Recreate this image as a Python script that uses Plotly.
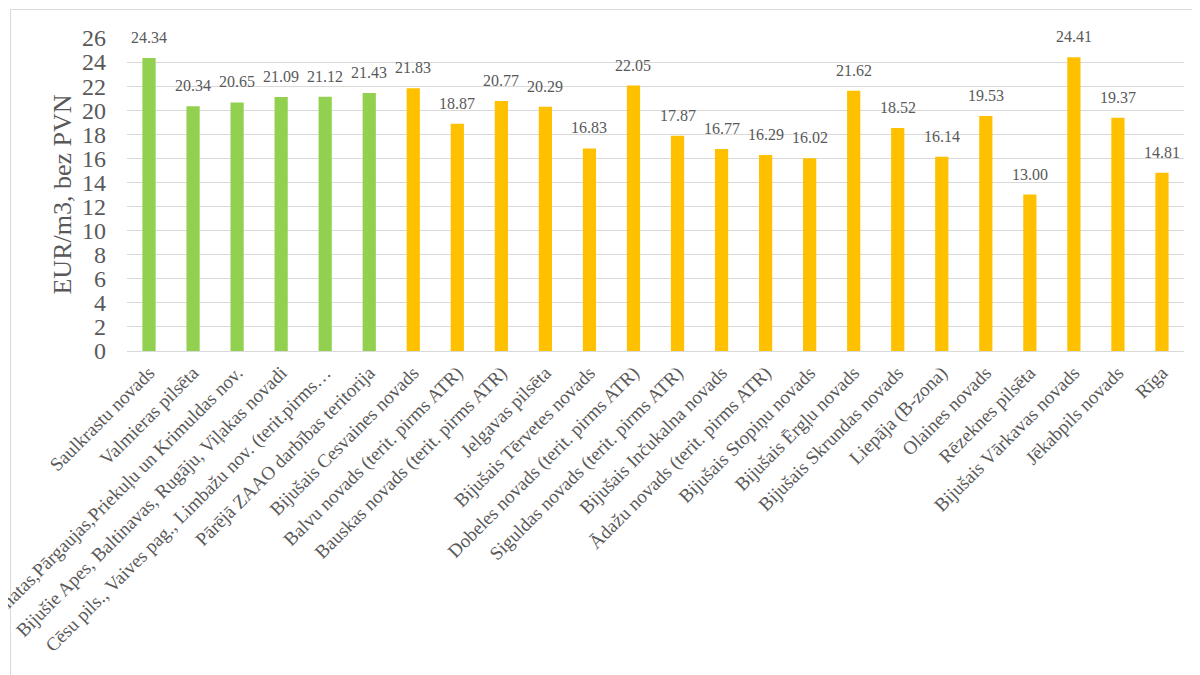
import plotly.graph_objects as go

categories = [
    "Saulkrastu novads",
    "Valmieras pilsēta",
    "Bijušie Amatas,Pārgaujas,Priekuļu un Krimuldas nov.",
    "Bijušie Apes, Baltinavas, Rugāju, Viļakas novadi",
    "Cēsu pils., Vaives pag., Limbažu nov. (terit.pirms…",
    "Pārējā ZAAO darbības teritorija",
    "Bijušais Cesvaines novads",
    "Balvu novads (terit. pirms ATR)",
    "Bauskas novads (terit. pirms ATR)",
    "Jelgavas pilsēta",
    "Bijušais Tērvetes novads",
    "Dobeles novads (terit. pirms ATR)",
    "Siguldas novads (terit. pirms ATR)",
    "Bijušais Inčukalna novads",
    "Ādažu novads (terit. pirms ATR)",
    "Bijušais Stopiņu novads",
    "Bijušais Ērgļu novads",
    "Bijušais Skrundas novads",
    "Liepāja (B-zona)",
    "Olaines novads",
    "Rēzeknes pilsēta",
    "Bijušais Vārkavas novads",
    "Jēkabpils novads",
    "Rīga",
]
values = [24.34, 20.34, 20.65, 21.09, 21.12, 21.43, 21.83, 18.87, 20.77, 20.29,
          16.83, 22.05, 17.87, 16.77, 16.29, 16.02, 21.62, 18.52, 16.14, 19.53,
          13.00, 24.41, 19.37, 14.81]
groups = ["green"] * 6 + ["orange"] * 18
y_ticks = list(range(0, 27, 2))

color_map = {"green": "#92D050", "orange": "#FFC000"}
bar_colors = [color_map[g] for g in groups]
text_color = "#595959"
serif = "Liberation Serif, Times New Roman, serif"

# page offset of the figure (default body margin)
OFF = 8
W, H = 1200, 675
# plot area in page pixels
PX0, PX1, PY0, PY1 = 127, 1184, 38, 351
L = PX0 - OFF
R = (W + OFF) - PX1
T = PY0 - OFF
B = (H + OFF) - PY1
pw, ph = W - L - R, H - T - B

def px_to_paper_x(px):
    return (px - PX0) / pw

def px_to_paper_y(py):
    return (PY1 - py) / ph

fig = go.Figure()
fig.add_trace(go.Bar(
    x=categories, y=values, marker=dict(color=bar_colors, line=dict(width=0)),
    showlegend=False, hoverinfo="x+y",
))

for c, v in zip(categories, values):
    fig.add_annotation(
        x=c, y=v, text=f"{v:.2f}", showarrow=False, yanchor="bottom", yshift=10,
        font=dict(family=serif, size=16, color=text_color),
    )

fig.add_shape(
    type="rect", xref="paper", yref="paper",
    x0=px_to_paper_x(10.5), x1=px_to_paper_x(1220),
    y0=px_to_paper_y(700), y1=px_to_paper_y(9.5),
    line=dict(color="#D9D9D9", width=1), fillcolor="rgba(0,0,0,0)", layer="below",
)

fig.update_layout(
    width=W, height=H,
    margin=dict(l=L, r=R, t=T, b=B, autoexpand=False),
    paper_bgcolor="white", plot_bgcolor="white",
    bargap=0.7,
    font=dict(family=serif, color=text_color),
    xaxis=dict(
        tickangle=-45, tickfont=dict(family=serif, size=19, color=text_color),
        showgrid=False, showline=False, ticks="", automargin=False,
        ticklabelstandoff=6,
    ),
    yaxis=dict(
        range=[0, 26], tickvals=y_ticks, ticktext=[str(t) for t in y_ticks],
        tickfont=dict(family=serif, size=24, color=text_color),
        showgrid=True, gridcolor="#D9D9D9", gridwidth=1,
        zeroline=True, zerolinecolor="#D9D9D9", zerolinewidth=1,
        showline=False, ticks="", ticklabelstandoff=20, automargin=False,
        title=dict(text="EUR/m3, bez PVN", font=dict(family=serif, size=26, color=text_color), standoff=2),
    ),
)

fig.write_html("out.html")
